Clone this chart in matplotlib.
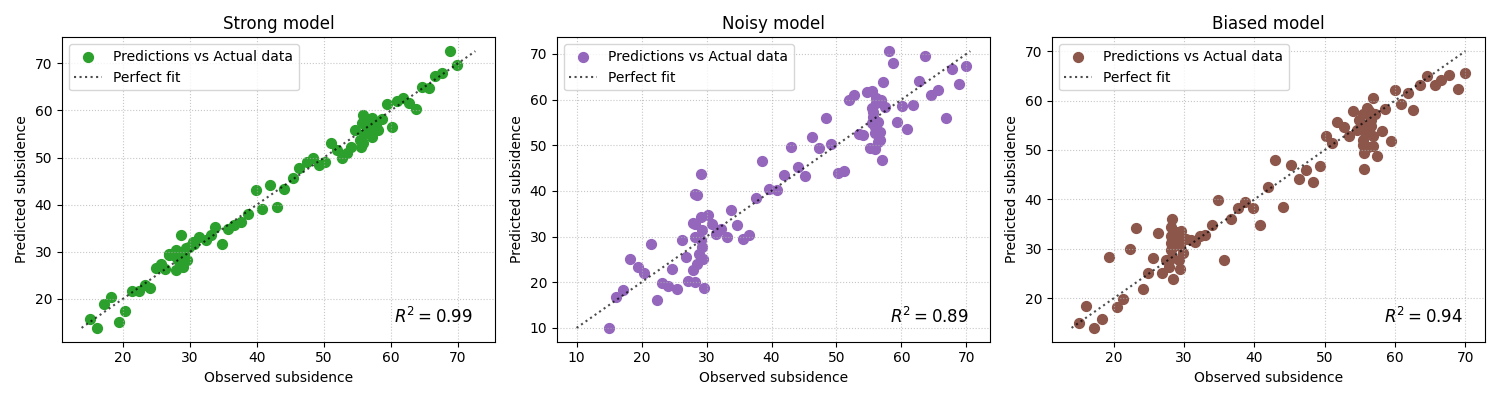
import matplotlib
matplotlib.use("Agg")
import matplotlib.pyplot as plt

# values
titles = ["Strong model", "Noisy model", "Biased model"]
colors = ["tab:green", "tab:purple", "tab:brown"]
r2_values = [0.99, 0.89, 0.94]

strong_obs = [15.05, 16.1, 17.2, 18.2, 19.4, 20.3, 21.3, 22.3, 23.3, 24.0, 24.9, 25.6, 26.3, 26.8,
              27.9, 26.9, 27.7, 28.2, 27.9, 28.65, 28.7, 28.9, 29.15, 29.4, 29.6, 29.9, 30.4, 30.6,
              31.4, 32.4, 33.1, 33.7, 34.7, 35.7, 36.6, 37.6, 38.7, 39.8, 40.8, 41.9, 43.0, 44.1,
              45.3, 46.3, 47.4, 48.3, 49.3, 50.2, 51.0, 52.0, 52.7, 53.5, 54.0, 54.6, 55.4, 55.6,
              55.9, 56.2, 55.7, 56.4, 56.7, 57.1, 57.2, 57.7, 58.1, 58.6, 59.4, 60.1, 60.9, 61.75,
              62.7, 63.7, 64.6, 65.65, 66.6, 67.6, 68.8, 69.9, 56.0, 55.8]
strong_pred = [15.6, 13.8, 18.8, 20.35, 15.0, 17.3, 21.6, 21.6, 23.0, 22.2, 26.6, 27.3, 26.4, 29.3,
               26.1, 29.4, 29.1, 28.2, 30.3, 28.9, 33.5, 26.8, 29.6, 30.7, 28.2, 31.0, 32.1, 31.6,
               33.2, 32.5, 33.5, 35.3, 31.6, 34.9, 35.7, 36.3, 38.1, 43.1, 39.0, 44.2, 39.5, 43.4,
               45.7, 47.7, 49.0, 50.0, 48.5, 49.1, 53.0, 51.6, 50.0, 50.9, 52.2, 55.8, 53.7, 52.2,
               59.0, 57.3, 57.3, 58.0, 56.2, 54.4, 58.5, 56.9, 55.8, 58.2, 61.3, 56.4, 62.0, 62.6,
               61.6, 60.4, 64.9, 64.7, 67.3, 67.9, 72.6, 69.6, 55.0, 53.0]

noisy_obs = [15.0, 16.1, 17.2, 18.2, 19.4, 20.3, 21.4, 22.3, 23.2, 24.0, 24.7, 25.5, 26.3, 26.9,
             27.2, 27.9, 27.95, 28.2, 28.2, 28.6, 28.3, 29.2, 28.3, 29.1, 29.3, 29.1, 29.3, 28.8,
             29.4, 29.6, 30.3, 30.9, 31.5, 32.3, 33.1, 33.8, 34.7, 35.6, 36.6, 37.6, 38.6, 39.6,
             40.9, 41.9, 43.0, 44.1, 45.2, 46.3, 47.3, 48.4, 49.2, 50.3, 51.2, 51.9, 52.7, 53.4,
             54.1, 54.7, 55.5, 55.1, 55.9, 55.4, 55.6, 55.9, 56.15, 56.4, 56.7, 56.7, 56.9, 56.15,
             57.1, 57.0, 57.4, 56.4, 55.9, 55.5, 55.6, 58.1, 58.7, 59.3, 60.1, 60.9, 61.8, 62.7,
             63.6, 64.6, 65.6, 66.8, 67.8, 68.9, 70.0, 28.5]
noisy_pred = [10.0, 16.7, 18.2, 25.0, 23.3, 22.1, 28.4, 16.1, 19.9, 19.1, 22.8, 18.6, 29.3, 25.5,
              20.2, 33.0, 22.6, 29.9, 20.1, 39.0, 39.3, 43.6, 32.8, 34.3, 31.4, 29.2, 27.7, 26.2,
              25.1, 18.8, 34.8, 32.8, 30.6, 31.7, 29.9, 35.9, 32.5, 29.5, 30.3, 38.5, 46.5, 40.5,
              40.1, 43.4, 49.6, 45.3, 43.2, 51.7, 49.3, 55.9, 50.2, 44.0, 44.3, 60.0, 61.1, 52.4,
              52.2, 61.7, 61.9, 49.5, 49.1, 58.1, 56.2, 54.0, 59.2, 55.1, 52.9, 51.1, 59.9, 60.3,
              63.9, 46.7, 58.4, 50.7, 52.6, 54.8, 57.3, 70.6, 67.9, 55.0, 58.6, 53.5, 58.8, 64.1,
              69.5, 60.9, 62.2, 55.9, 66.8, 63.5, 67.4, 24.0]

biased_obs = [15.1, 16.1, 17.2, 18.3, 19.3, 20.4, 21.3, 22.3, 23.2, 24.1, 24.9, 25.6, 26.3, 26.9,
              27.4, 27.9, 28.3, 28.4, 28.1, 28.1, 28.1, 28.1, 28.3, 28.9, 29.1, 29.4, 29.3, 29.4,
              29.5, 29.9, 30.3, 31.0, 31.6, 32.2, 33.0, 33.9, 34.8, 35.65, 36.7, 37.6, 38.6, 39.8,
              40.8, 41.9, 43.0, 44.1, 45.2, 46.3, 47.3, 48.3, 49.3, 50.2, 51.1, 51.8, 52.7, 53.4,
              54.0, 54.6, 54.9, 55.4, 55.6, 55.9, 55.4, 55.6, 55.6, 56.0, 56.35, 56.6, 56.6, 56.8,
              56.8, 56.9, 57.1, 57.4, 55.4, 56.1, 55.6, 58.2, 58.6, 59.4, 60.0, 60.9, 61.8, 62.6,
              63.6, 64.6, 65.7, 66.6, 67.7, 68.9, 70.0]
biased_pred = [14.9, 18.4, 14.0, 15.7, 28.3, 18.2, 19.8, 29.9, 34.2, 21.8, 25.1, 28.1, 33.2, 25.2,
               27.8, 26.4, 36.0, 23.9, 34.5, 32.5, 31.1, 29.8, 28.1, 33.5, 31.8, 30.5, 27.8, 25.9,
               33.6, 29.1, 32.0, 31.8, 31.4, 32.6, 32.8, 34.9, 39.9, 27.8, 36.0, 38.2, 39.5, 38.2,
               34.9, 42.5, 48.0, 38.4, 46.9, 44.1, 46.0, 43.6, 46.8, 52.9, 51.4, 55.7, 54.7, 52.8,
               57.8, 54.1, 56.1, 57.2, 54.8, 53.4, 52.1, 49.4, 46.2, 58.5, 57.8, 56.1, 54.8, 52.8,
               50.9, 60.5, 57.2, 48.7, 51.0, 50.7, 53.8, 53.9, 58.2, 51.9, 62.2, 59.4, 61.6, 58.0,
               63.2, 64.9, 63.2, 64.1, 65.1, 62.4, 65.6]


def main():
    observed = [strong_obs, noisy_obs, biased_obs]
    predicted = [strong_pred, noisy_pred, biased_pred]

    fig, axes = plt.subplots(1, 3, figsize=(15, 4), dpi=100)

    for ax, obs, pred, title, c, r2 in zip(axes, observed, predicted, titles, colors, r2_values):
        ax.scatter(obs, pred, color=c, s=50, label="Predictions vs Actual data")
        lo = min(min(obs), min(pred))
        hi = max(max(obs), max(pred))
        ax.plot([lo, hi], [lo, hi], 'k:', alpha=0.7, lw=1.5, label="Perfect fit")
        ax.set_title(title)
        ax.set_xlabel("Observed subsidence")
        ax.set_ylabel("Predicted subsidence")
        ax.text(0.95, 0.05, f"$R^2 = {r2:.2f}$", transform=ax.transAxes,
                ha='right', va='bottom', fontsize=12)
        ax.legend(loc='upper left')
        ax.grid(True, linestyle=':', alpha=0.7)

    plt.tight_layout()
    plt.savefig("out.png")


if __name__ == "__main__":
    main()
